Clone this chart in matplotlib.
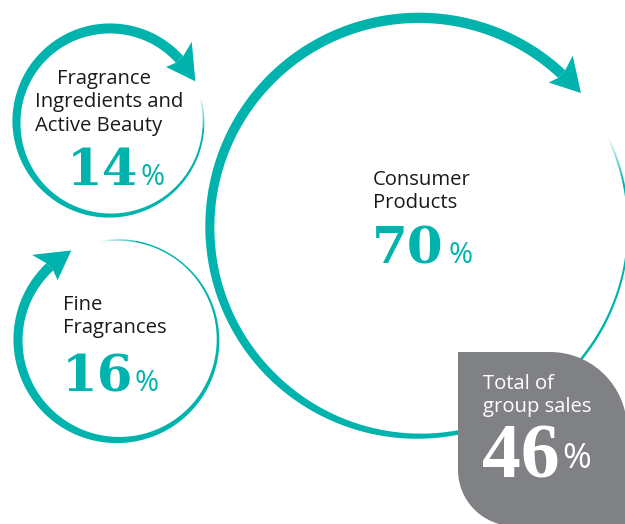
import numpy as np
import matplotlib.pyplot as plt
from matplotlib.patches import Polygon
from matplotlib.collections import PolyCollection
from matplotlib.path import Path
from matplotlib.patches import PathPatch
from matplotlib.colors import to_rgb

# share of group sales by division
segments = ['Fragrance\nIngredients and\nActive Beauty', 'Fine\nFragrances', 'Consumer\nProducts']
shares = [14, 16, 70]
total_label = 'Total of\ngroup sales'
total_share = 46

TEAL = '#00b3ad'
GREY = '#808184'
SANS = 'Open Sans'
SERIF = 'DejaVu Serif'

# layout (pixel coords, y down)
centers = [(110, 122), (118, 340), (419, 227)]
head_at = [42, 133, 47]          # angle of arrow head base (deg, ccw)
spans = [333, 327, 338]          # length of stroke behind the head (deg)
fades = [18, 20, 12]
tapers = [
    ([0, 60, 140, 185, 230, 275, 320], [10, 10, 8, 5.5, 4, 2.5, 1.6]),
    ([0, 50, 95, 140, 185, 230, 275], [10, 9, 8, 6, 4, 2.5, 1.5]),
    ([0, 90, 135, 180, 225, 255, 300], [10.5, 10, 9, 8, 5, 3, 2]),
]
label_pos = [([57, 35, 35], 84), ([63, 63], 310), ([373, 373], 185)]
num_pos = [(67, 185), (62, 391), (372, 263)]
pct_x = [140, 135, 449]

fig = plt.figure(figsize=(6.25, 5.24), dpi=100)
ax = fig.add_axes([0, 0, 1, 1])
ax.set_xlim(0, 625)
ax.set_ylim(524, 0)
ax.axis('off')

rgb = to_rgb(TEAL)


def pt(cx, cy, ang, rad):
    a = np.radians(ang)
    return cx + rad * np.cos(a), cy - rad * np.sin(a)


def ring(cx, cy, r, base, span, fade, taper):
    d = np.linspace(0, span, 800)
    w = np.interp(d, taper[0], taper[1])
    th = np.radians(base + d)
    xo, yo = cx + (r + w / 2) * np.cos(th), cy - (r + w / 2) * np.sin(th)
    xi, yi = cx + (r - w / 2) * np.cos(th), cy - (r - w / 2) * np.sin(th)
    solid = d <= span - fade
    outer = np.column_stack([xo[solid], yo[solid]])
    inner = np.column_stack([xi[solid], yi[solid]])[::-1]
    ax.add_patch(Polygon(np.vstack([outer, inner]), closed=True, fc=TEAL, ec='none', zorder=1))
    quads, cols = [], []
    i0 = np.argmax(~solid) - 1
    for i in range(i0, len(d) - 1):
        quads.append([(xo[i], yo[i]), (xo[i + 1], yo[i + 1]), (xi[i + 1], yi[i + 1]), (xi[i], yi[i])])
        cols.append((*rgb, float(np.clip((span - d[i]) / fade, 0, 1))))
    ax.add_collection(PolyCollection(quads, facecolors=cols, edgecolors='none', zorder=1))

    # arrow head
    k = 180 / np.pi / r
    w0 = taper[1][0]
    L, ho, hi, sw = 27, 21, 15, 4
    head = [pt(cx, cy, base, r + w0 / 2), pt(cx, cy, base + sw * k, r + ho),
            pt(cx, cy, base - L * k, r + 1), pt(cx, cy, base + sw * k, r - hi),
            pt(cx, cy, base, r - w0 / 2)]
    ax.add_patch(Polygon(head, closed=True, fc=TEAL, ec='none', zorder=1))


for i, v in enumerate(shares):
    r = 25 * np.sqrt(v)
    cx, cy = centers[i]
    ring(cx, cy, r, head_at[i], spans[i], fades[i], tapers[i])

    xs, y0 = label_pos[i]
    for j, line in enumerate(segments[i].split('\n')):
        ax.text(xs[j], y0 + j * 23.5, line, family=SANS, fontsize=14.6, color='#1a1a1a',
                ha='left', va='baseline', zorder=3)
    nx, ny = num_pos[i]
    ax.text(nx, ny, str(v), family=SERIF, fontweight='bold', fontsize=37, color=TEAL,
            ha='left', va='baseline', zorder=3)
    ax.text(pct_x[i], ny, '%', family=SANS, fontsize=21, color=TEAL,
            ha='left', va='baseline', zorder=3)

# grey drop with the total
x0, y0, x1, y1 = 458, 352, 627, 526
rtr, rbl = 77, 56
verts = [(x0, y0), (x1 - rtr, y0)]
verts += [pt(x1 - rtr, y0 + rtr, a, rtr) for a in np.linspace(90, 0, 30)]
verts += [(x1, y1), (x0 + rbl, y1)]
verts += [pt(x0 + rbl, y1 - rbl, a, rbl) for a in np.linspace(270, 180, 30)]
verts += [(x0, y0)]
ax.add_patch(PathPatch(Path(verts), fc=GREY, ec='none', zorder=2))

for j, line in enumerate(total_label.split('\n')):
    ax.text(483, 389 + j * 23, line, family=SANS, fontsize=14.6, color='white',
            ha='left', va='baseline', zorder=3)
ax.text(482, 477, str(total_share), family='Liberation Serif', fontweight='bold',
        fontsize=56, color='white', ha='left', va='baseline', zorder=3)
ax.text(562, 468, '%', family=SANS, fontsize=25, color='white',
        ha='left', va='baseline', zorder=3)

fig.savefig('out.png', dpi=100)
